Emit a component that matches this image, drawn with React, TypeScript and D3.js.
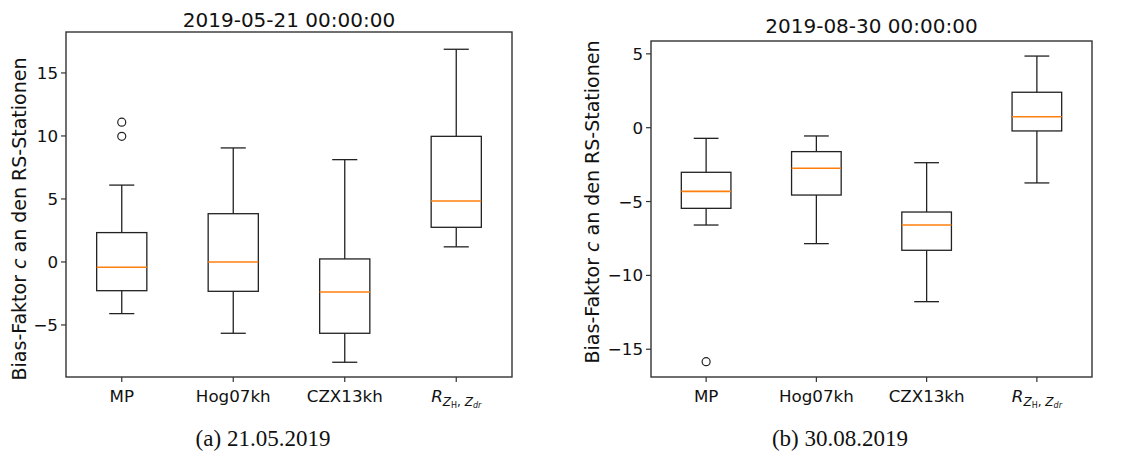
import React from "react";
import * as d3 from "d3";

const categories = ["MP", "Hog07kh", "CZX13kh", "R"];

// Panel (a) 21.05.2019
const aWhiskerLow = [-4.1, -5.66, -7.96, 1.2];
const aQ1 = [-2.28, -2.33, -5.66, 2.75];
const aMedian = [-0.42, 0.0, -2.38, 4.84];
const aQ3 = [2.33, 3.83, 0.24, 9.97];
const aWhiskerHigh = [6.1, 9.05, 8.12, 16.88];
const aOutliers = [[11.09, 9.97], [], [], []];
const aTicks = [-5, 0, 5, 10, 15];

// Panel (b) 30.08.2019
const bWhiskerLow = [-6.59, -7.85, -11.78, -3.74];
const bQ1 = [-5.46, -4.56, -8.3, -0.22];
const bMedian = [-4.31, -2.75, -6.59, 0.74];
const bQ3 = [-3.02, -1.62, -5.71, 2.4];
const bWhiskerHigh = [-0.72, -0.56, -2.37, 4.85];
const bOutliers = [[-15.84], [], [], []];
const bTicks = [-15, -10, -5, 0, 5];

const FONT = "'DejaVu Sans', sans-serif";

function fmt(v: number) {
  return v < 0 ? "\u2212" + Math.abs(v) : String(v);
}

type PanelProps = {
  left: number;
  right: number;
  top: number;
  bottom: number;
  yDomain: [number, number];
  ticks: number[];
  lo: number[];
  q1: number[];
  med: number[];
  q3: number[];
  hi: number[];
  out: number[][];
  title: string;
  titleY: number;
  ylabelX: number;
  ylabelY: number;
  caption: string;
  captionX: number;
};

function Panel(p: PanelProps) {
  const y = d3.scaleLinear().domain(p.yDomain).range([p.bottom, p.top]);
  const x = d3.scaleLinear().domain([0.5, 4.5]).range([p.left, p.right]);
  const bw = x(1.45) - x(1);
  const cw = x(1.225) - x(1);
  return (
    <g>
      <text x={(p.left + p.right) / 2} y={p.titleY} textAnchor="middle" fontFamily={FONT} fontSize={20} fill="#111">
        {p.title}
      </text>
      {categories.map((c, i) => {
        const cx = x(i + 1);
        return (
          <g key={c}>
            <line x1={cx} x2={cx} y1={y(p.hi[i])} y2={y(p.q3[i])} stroke="#222" strokeWidth={1.3} />
            <line x1={cx} x2={cx} y1={y(p.q1[i])} y2={y(p.lo[i])} stroke="#222" strokeWidth={1.3} />
            <line x1={cx - cw / 2} x2={cx + cw / 2} y1={y(p.hi[i])} y2={y(p.hi[i])} stroke="#222" strokeWidth={1.3} />
            <line x1={cx - cw / 2} x2={cx + cw / 2} y1={y(p.lo[i])} y2={y(p.lo[i])} stroke="#222" strokeWidth={1.3} />
            <rect x={cx - bw / 2} width={bw} y={y(p.q3[i])} height={y(p.q1[i]) - y(p.q3[i])} fill="none" stroke="#222" strokeWidth={1.3} />
            <line x1={cx - bw / 2} x2={cx + bw / 2} y1={y(p.med[i])} y2={y(p.med[i])} stroke="#ff7f0e" strokeWidth={1.6} />
            {p.out[i].map((o, j) => (
              <circle key={j} cx={cx} cy={y(o)} r={4} fill="none" stroke="#222" strokeWidth={1.2} />
            ))}
            <line x1={cx} x2={cx} y1={p.bottom} y2={p.bottom + 5} stroke="#333" strokeWidth={1.2} />
            {c === "R" ? (
              <text x={cx} y={p.bottom + 25} textAnchor="middle" fontFamily={FONT} fontSize={16.7} fill="#111">
                <tspan fontStyle="italic">R</tspan>
                <tspan fontStyle="italic" fontSize={12} dy={4}>Z</tspan>
                <tspan fontSize={8} dy={2}>H</tspan>
                <tspan fontSize={12} dy={-2}>, </tspan>
                <tspan fontStyle="italic" fontSize={12}>Z</tspan>
                <tspan fontStyle="italic" fontSize={8} dy={2}>dr</tspan>
              </text>
            ) : (
              <text x={cx} y={p.bottom + 25} textAnchor="middle" fontFamily={FONT} fontSize={16.7} fill="#111">
                {c}
              </text>
            )}
          </g>
        );
      })}
      {p.ticks.map((t) => (
        <g key={t}>
          <line x1={p.left - 5} x2={p.left} y1={y(t)} y2={y(t)} stroke="#333" strokeWidth={1.2} />
          <text x={p.left - 8} y={y(t)} dy="0.36em" textAnchor="end" fontFamily={FONT} fontSize={16.7} fill="#111">
            {fmt(t)}
          </text>
        </g>
      ))}
      <rect x={p.left} y={p.top} width={p.right - p.left} height={p.bottom - p.top} fill="none" stroke="#333" strokeWidth={1.4} />
      <text
        transform={`translate(${p.ylabelX},${p.ylabelY}) rotate(-90)`}
        textAnchor="middle"
        dy="0.36em"
        fontFamily={FONT}
        fontSize={19}
        fill="#111"
      >
        Bias-Faktor <tspan fontStyle="italic">c</tspan> an den RS-Stationen
      </text>
      <text x={p.captionX} y={446} textAnchor="middle" fontFamily="'Liberation Serif', serif" fontSize={23} fill="#111">
        {p.caption}
      </text>
    </g>
  );
}

export default function App() {
  return (
    <svg width={1132} height={453} style={{ position: "absolute", left: 0, top: 0, background: "#fff" }}>
      <rect width={1132} height={453} fill="#fff" />
      <Panel
        left={66}
        right={512}
        top={32}
        bottom={377}
        yDomain={[-9.13, 18.25]}
        ticks={aTicks}
        lo={aWhiskerLow}
        q1={aQ1}
        med={aMedian}
        q3={aQ3}
        hi={aWhiskerHigh}
        out={aOutliers}
        title="2019-05-21 00:00:00"
        titleY={27}
        ylabelX={19}
        ylabelY={219}
        caption="(a) 21.05.2019"
        captionX={263}
      />
      <Panel
        left={651}
        right={1092}
        top={41}
        bottom={377}
        yDomain={[-16.88, 5.87]}
        ticks={bTicks}
        lo={bWhiskerLow}
        q1={bQ1}
        med={bMedian}
        q3={bQ3}
        hi={bWhiskerHigh}
        out={bOutliers}
        title="2019-08-30 00:00:00"
        titleY={33}
        ylabelX={592}
        ylabelY={202}
        caption="(b) 30.08.2019"
        captionX={840}
      />
    </svg>
  );
}
